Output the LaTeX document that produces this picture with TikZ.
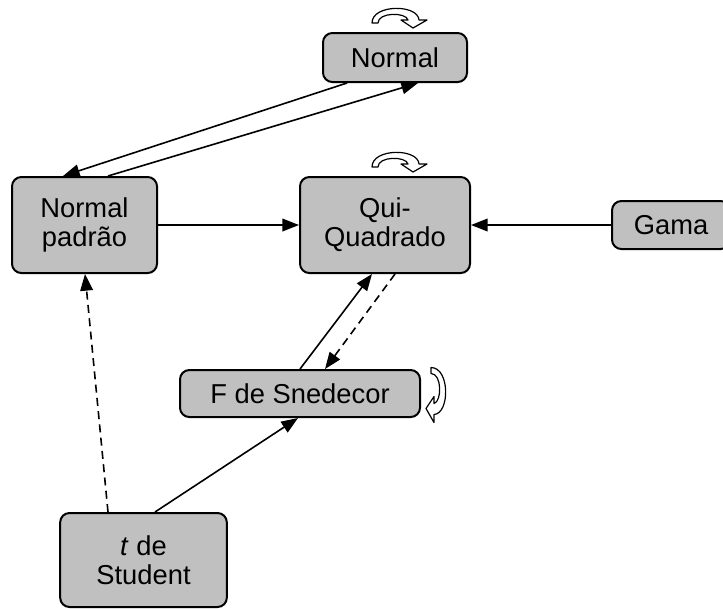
\documentclass[tikz,border=0pt]{standalone}
\usepackage{fontspec}
\setmainfont{Liberation Sans}
\usetikzlibrary{arrows.meta, calc}
\definecolor{boxcolor}{RGB}{192, 192, 192}
\tikzstyle{distbox} = [
    rectangle,
    rounded corners=7pt,
    align=center,
    draw=black,
    line width=1.5pt,
    fill=boxcolor,
    inner sep=0pt
]
\tikzstyle{arrow} = [
    -{Triangle[length=12.5pt, width=9.5pt]},
    line width=1.2pt,
    color=black
]
\tikzstyle{dasharrow} = [
    arrow,
    dash pattern=on 6pt off 4pt
]
\tikzset{
    loopsign/.pic={
        \draw[fill=white, line width=0.9pt, line join=round]
            (-28,5) .. controls (-28,-14) and (18,-14) .. (19,2)
            -- (27,2) -- (13,10) -- (1,2) -- (8,2)
            .. controls (6,-6) and (-22,-6) .. (-22,5) -- cycle;
    }
}

\begin{document}
\begin{tikzpicture}[x=0.75pt, y=-0.75pt, font=\fontsize{20.5}{22}\selectfont]
\useasboundingbox (0,0) rectangle (723,608);

% Distributions
\node[distbox, minimum width=108pt, minimum height=36.75pt] (normal) at (395, 57.5) {Normal};
\node[distbox, minimum width=108.75pt, minimum height=72pt] (padrao) at (84.5, 225) {Normal\\padrão};
\node[distbox, minimum width=127.5pt, minimum height=72pt] (qui) at (385, 225) {Qui-\\Quadrado};
\node[distbox, minimum width=88.5pt, minimum height=36pt] (gama) at (671, 225) {Gama};
\node[distbox, minimum width=180pt, minimum height=35.25pt] (snedecor) at (300, 393.5) {F de Snedecor};
\node[distbox, minimum width=125pt, minimum height=70.5pt] (student) at (143.5, 560) {\textit{t} de\\Student};

% Self-loops
\pic at (400, 18) {loopsign};
\pic at (400, 162) {loopsign};
\pic[rotate=-90] at (436, 395.5) {loopsign};

% Normal <-> Normal padrao
\draw[arrow] ($(normal.south)+(-48,0)$) -- ($(padrao.north)+(-21.5,0)$);
\draw[arrow] ($(padrao.north)+(23.5,0)$) -- ($(normal.south)+(23,0)$);

% Into Qui-Quadrado
\draw[arrow] (padrao.east) -- (qui.west);
\draw[arrow] (gama.west) -- (qui.east);
\draw[arrow] (snedecor.north) -- ($(qui.south)+(-13,0)$);
\draw[dasharrow] ($(qui.south)+(10,0)$) -- ($(snedecor.north)+(25,0)$);

% From t de Student
\draw[arrow] ($(student.north)+(11.5,0)$) -- ($(snedecor.south)+(-2,0)$);
\draw[dasharrow] ($(student.north)+(-35.5,0)$) -- ($(padrao.south)+(0.5,0)$);

\end{tikzpicture}
\end{document}
